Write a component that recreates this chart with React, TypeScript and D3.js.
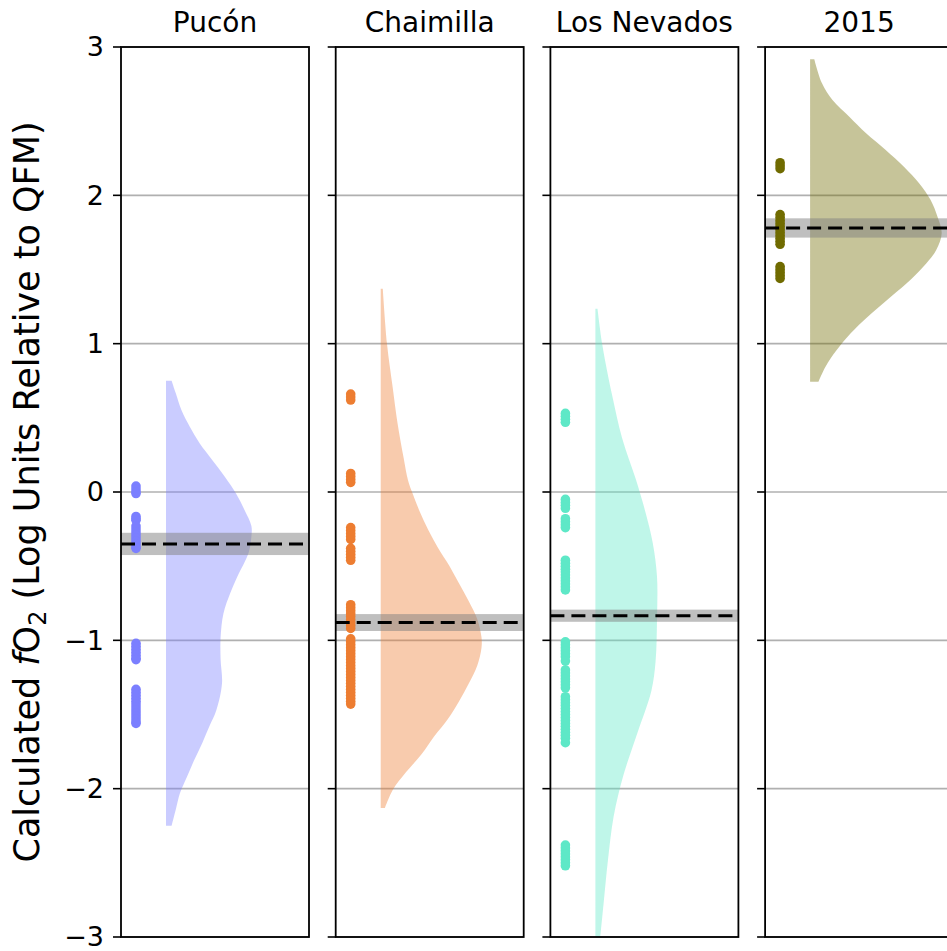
import React from "react";
import * as d3 from "d3";

// Panel titles and colours
const panelNames = ["Pucón", "Chaimilla", "Los Nevados", "2015"];
const pointColors = ["#7b7fff", "#ed7d31", "#5ee8c7", "#706b00"];

// Calculated fO2 values (log units relative to QFM) per locality
const puconValues = [
  0.04, 0.02, 0.0, -0.01, -0.165, -0.18, -0.19, -0.23, -0.25, -0.27, -0.29,
  -0.31, -0.33, -0.35, -0.37, -0.38, -1.02, -1.04, -1.06, -1.08, -1.1, -1.12,
  -1.13, -1.33, -1.35, -1.37, -1.39, -1.41, -1.43, -1.45, -1.47, -1.49, -1.51,
  -1.53, -1.55, -1.56,
];
const chaimillaValues = [
  0.66, 0.64, 0.62, 0.125, 0.105, 0.085, 0.065, -0.24, -0.26, -0.28, -0.3,
  -0.32, -0.38, -0.4, -0.42, -0.44, -0.46, -0.76, -0.78, -0.8, -0.82, -0.84,
  -0.86, -0.88, -0.9, -0.92, -0.99, -1.01, -1.03, -1.05, -1.07, -1.09, -1.11,
  -1.13, -1.15, -1.17, -1.19, -1.21, -1.23, -1.25, -1.27, -1.29, -1.31, -1.33,
  -1.35, -1.37, -1.39, -1.41, -1.43,
];
const nevadosValues = [
  0.53, 0.51, 0.49, 0.47, -0.05, -0.07, -0.09, -0.11, -0.18, -0.2, -0.22,
  -0.24, -0.46, -0.48, -0.5, -0.52, -0.54, -0.56, -0.58, -0.6, -0.62, -0.64,
  -0.66, -1.01, -1.03, -1.05, -1.07, -1.09, -1.11, -1.14, -1.2, -1.22, -1.24,
  -1.26, -1.28, -1.3, -1.32, -1.38, -1.4, -1.42, -1.44, -1.46, -1.48, -1.5,
  -1.52, -1.54, -1.56, -1.58, -1.6, -1.62, -1.64, -1.66, -1.69, -2.38, -2.4,
  -2.42, -2.44, -2.46, -2.48, -2.5, -2.52,
];
const eruption2015Values = [
  2.22, 2.2, 2.18, 1.87, 1.85, 1.83, 1.81, 1.79, 1.77, 1.75, 1.73, 1.71, 1.69,
  1.67, 1.52, 1.5, 1.48, 1.46, 1.44,
];

// Density profiles of each distribution: [fO2, density]
const puconDensity: [number, number][] = [
  [0.75, 0.04], [0.665, 0.07], [0.553, 0.11], [0.44, 0.17], [0.328, 0.24],
  [0.216, 0.33], [0.103, 0.42], [-0.01, 0.5], [-0.12, 0.56], [-0.23, 0.61],
  [-0.3, 0.61], [-0.41, 0.59], [-0.57, 0.51], [-0.68, 0.46], [-0.82, 0.41],
  [-0.98, 0.39], [-1.13, 0.39], [-1.29, 0.4], [-1.47, 0.36], [-1.58, 0.31],
  [-1.69, 0.26], [-1.81, 0.2], [-1.92, 0.15], [-2.03, 0.1], [-2.14, 0.07],
  [-2.25, 0.04],
];
const chaimillaDensity: [number, number][] = [
  [1.37, 0.015], [1.0, 0.045], [0.71, 0.085], [0.466, 0.12], [0.225, 0.165],
  [0.08, 0.195], [-0.015, 0.23], [-0.135, 0.28], [-0.256, 0.34], [-0.377, 0.41],
  [-0.497, 0.49], [-0.617, 0.56], [-0.738, 0.63], [-0.858, 0.69], [-0.98, 0.72],
  [-1.05, 0.72], [-1.17, 0.69], [-1.29, 0.63], [-1.41, 0.56], [-1.53, 0.48],
  [-1.65, 0.38], [-1.77, 0.29], [-1.89, 0.18], [-2.01, 0.085], [-2.13, 0.03],
];
const nevadosDensity: [number, number][] = [
  [1.235, 0.015], [0.99, 0.05], [0.65, 0.12], [0.366, 0.19], [0.082, 0.29],
  [-0.145, 0.36], [-0.345, 0.41], [-0.57, 0.44], [-0.86, 0.44], [-1.14, 0.43],
  [-1.34, 0.4], [-1.625, 0.3], [-1.91, 0.2], [-2.19, 0.13], [-2.48, 0.09],
  [-2.76, 0.06], [-3.0, 0.035],
];
const eruption2015Density: [number, number][] = [
  [2.917, 0.03], [2.755, 0.085], [2.643, 0.16], [2.53, 0.28], [2.418, 0.4],
  [2.306, 0.54], [2.193, 0.67], [2.08, 0.78], [1.97, 0.86], [1.856, 0.91],
  [1.744, 0.94], [1.63, 0.9], [1.52, 0.81], [1.407, 0.69], [1.295, 0.55],
  [1.18, 0.41], [1.07, 0.29], [0.957, 0.19], [0.845, 0.11], [0.744, 0.06],
];

// Mean fO2 and its uncertainty band
const meanValues = [-0.35, -0.88, -0.834, 1.78];
const meanErrors = [0.075, 0.057, 0.041, 0.065];

const yTicks = [-3, -2, -1, 0, 1, 2, 3];

const allValues = [puconValues, chaimillaValues, nevadosValues, eruption2015Values];
const allDensity = [puconDensity, chaimillaDensity, nevadosDensity, eruption2015Density];

const WIDTH = 947;
const HEIGHT = 951;
const PLOT_TOP = 47;
const PLOT_BOTTOM = 937;
const FIRST_LEFT = 121;
const PANEL_STEP = 214.7;
const PANEL_W = 188;
const FONT = "'DejaVu Sans', sans-serif";

const yScale = d3.scaleLinear().domain([-3, 3]).range([PLOT_BOTTOM, PLOT_TOP]);
const widthScale = d3.scaleLinear().domain([0, 1]).range([0, 140]);
const tickFormat = (v: number) => (v < 0 ? "\u2212" + Math.abs(v) : String(v));

function Panel({ index }: { index: number }) {
  const left = FIRST_LEFT + index * PANEL_STEP;
  const right = left + PANEL_W;
  const dotX = left + 15;
  const violinX = left + 45;
  const color = pointColors[index];
  const clipId = `panel-clip-${index}`;

  const area = d3
    .area<[number, number]>()
    .y((d) => yScale(d[0]))
    .x0(violinX)
    .x1((d) => violinX + widthScale(d[1]))
    .curve(d3.curveCatmullRom);

  const mean = meanValues[index];
  const err = meanErrors[index];

  return (
    <g>
      <defs>
        <clipPath id={clipId}>
          <rect x={left} y={PLOT_TOP} width={PANEL_W} height={PLOT_BOTTOM - PLOT_TOP} />
        </clipPath>
      </defs>
      {/* grid */}
      {yTicks.map((t) => (
        <line
          key={t}
          x1={left}
          x2={right}
          y1={yScale(t)}
          y2={yScale(t)}
          stroke="#b0b0b0"
          strokeWidth={1.6}
        />
      ))}
      <g clipPath={`url(#${clipId})`}>
        <path d={area(allDensity[index]) || ""} fill={color} fillOpacity={0.4} />
        <rect
          x={left}
          width={PANEL_W}
          y={yScale(mean + err)}
          height={yScale(mean - err) - yScale(mean + err)}
          fill="#808080"
          fillOpacity={0.5}
        />
        {allValues[index].map((v, i) => (
          <circle key={i} cx={dotX} cy={yScale(v)} r={4.8} fill={color} />
        ))}
        <line
          x1={left}
          x2={right}
          y1={yScale(mean)}
          y2={yScale(mean)}
          stroke="#000"
          strokeWidth={3}
          strokeDasharray="14 7"
        />
      </g>
      {/* ticks */}
      {yTicks.map((t) => (
        <line
          key={t}
          x1={left - 8}
          x2={left}
          y1={yScale(t)}
          y2={yScale(t)}
          stroke="#000"
          strokeWidth={1.6}
        />
      ))}
      <rect
        x={left}
        y={PLOT_TOP}
        width={PANEL_W}
        height={PLOT_BOTTOM - PLOT_TOP}
        fill="none"
        stroke="#000"
        strokeWidth={1.8}
      />
      <text
        x={(left + right) / 2}
        y={32}
        textAnchor="middle"
        fontSize={28}
        fontFamily={FONT}
        fill="#000"
      >
        {panelNames[index]}
      </text>
    </g>
  );
}

export default function App() {
  return (
    <svg
      width={WIDTH}
      height={HEIGHT}
      style={{ position: "absolute", left: 0, top: 0, display: "block", background: "#fff" }}
    >
      <rect width={WIDTH} height={HEIGHT} fill="#fff" />
      {panelNames.map((_, i) => (
        <Panel key={i} index={i} />
      ))}
      {yTicks.map((t) => (
        <text
          key={t}
          x={104}
          y={yScale(t)}
          dy="0.35em"
          textAnchor="end"
          fontSize={27}
          fontFamily={FONT}
          fill="#000"
        >
          {tickFormat(t)}
        </text>
      ))}
      <text
        transform={`translate(39, ${(PLOT_TOP + PLOT_BOTTOM) / 2}) rotate(-90)`}
        textAnchor="middle"
        fontSize={35}
        fontFamily={FONT}
        fill="#000"
      >
        Calculated <tspan fontStyle="italic">f</tspan>O
        <tspan fontSize={24} dy={7}>2</tspan>
        <tspan dy={-7}> (Log Units Relative to QFM)</tspan>
      </text>
    </svg>
  );
}
